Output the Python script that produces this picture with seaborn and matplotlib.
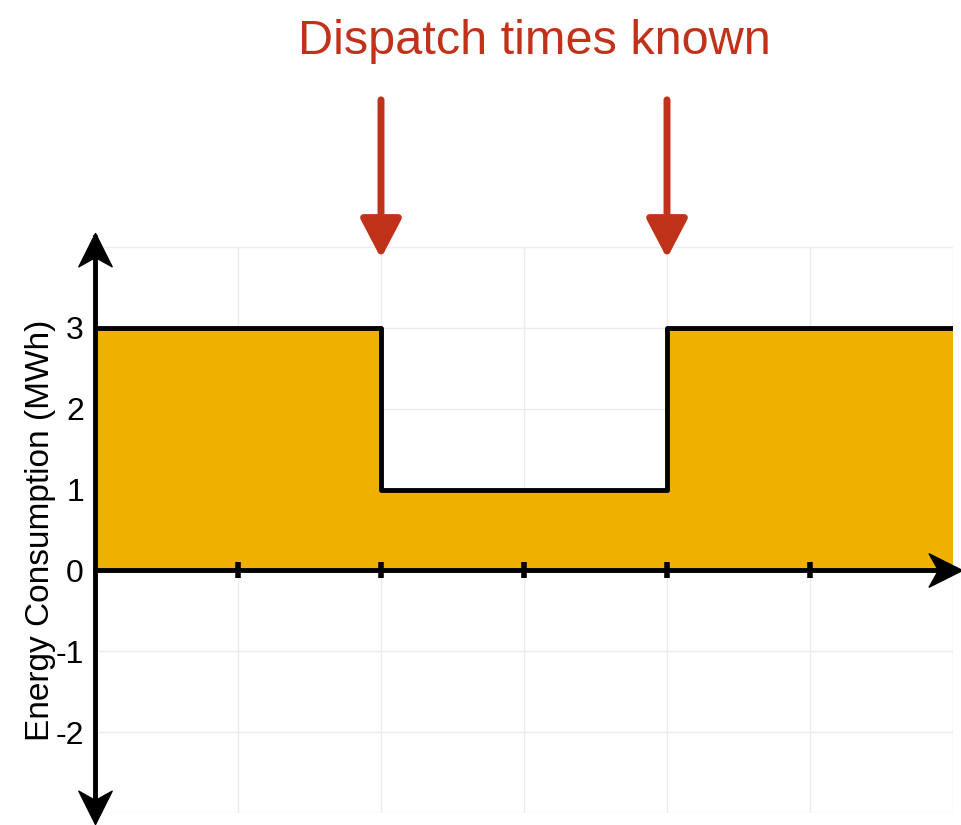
import numpy as np
import pandas as pd
import matplotlib
matplotlib.use('Agg')
import matplotlib.pyplot as plt
from matplotlib.path import Path
import seaborn as sns

# ========================================
# Data
# ========================================
hours = [0, 2, 4, 6]
consumption = [3, 1, 3, 3]
dispatch_times = [2, 4]
x_marks = [1, 2, 3, 4, 5]
y_ticks = [-3, -2, -1, 0, 1, 2, 3, 4]
y_labels = ['', '-2', '-1', '0', '1', '2', '3', '']

TITLE = 'Dispatch times known'
YLABEL = 'Energy Consumption (MWh)'
FILL = '#EFB000'
RED = '#C0321A'

sns.set_theme(style='white')
plt.rcParams['font.family'] = ['Liberation Sans', 'DejaVu Sans']

df = pd.DataFrame({'hour': hours, 'mwh': consumption})


def chevron(direction):
    # swept-back arrow head, tip at the origin
    pts = np.array([(0, 0), (-0.5, -1), (0, -0.72), (0.5, -1), (0, 0)])
    rot = {'up': 0, 'down': np.pi, 'right': -np.pi / 2}[direction]
    c, s = np.cos(rot), np.sin(rot)
    pts = pts @ np.array([[c, s], [-s, c]])
    codes = [Path.MOVETO, Path.LINETO, Path.LINETO, Path.LINETO, Path.CLOSEPOLY]
    return Path(pts, codes)


fig = plt.figure(figsize=(9.61, 8.25), dpi=100)
ax = fig.add_axes([95 / 961, 1 - 813 / 825, 858 / 961, 566 / 825])

# fill + step line
ax.fill_between(df['hour'], df['mwh'], 0, step='post', color=FILL, lw=0, zorder=1)
sns.lineplot(data=df, x='hour', y='mwh', drawstyle='steps-post', color='black',
             lw=3.5, ax=ax, zorder=3, solid_capstyle='round')

ax.set_xlim(0, 6)
ax.set_ylim(-3, 4)
ax.set_xticks(range(0, 7))
ax.set_xticklabels([])
ax.set_yticks(y_ticks)
ax.set_yticklabels(y_labels, fontsize=23, color='black')
ax.tick_params(axis='x', length=0)
ax.tick_params(axis='y', direction='in', length=8, width=3.5, color='black', pad=8)
for t in (ax.yaxis.get_major_ticks()[0], ax.yaxis.get_major_ticks()[-1]):
    t.tick1line.set_visible(False)
ax.grid(True, color='#EBEBEB', lw=1)
for s in ax.spines.values():
    s.set_visible(False)
ax.set_xlabel('')
ax.set_ylabel(YLABEL, fontsize=24, color='black')
ax.yaxis.set_label_coords(-0.046, 0.5)

# axes with arrows
ax.plot([0, 0], [-3.08, 4.13], color='black', lw=3.5, clip_on=False, zorder=4)
ax.plot([0, 6.02], [0, 0], color='black', lw=3.5, clip_on=False, zorder=4)
ax.plot([0], [4.17], ls='none', marker=chevron('up'), ms=48, color='black',
        clip_on=False, zorder=5)
ax.plot([0], [-3.13], ls='none', marker=chevron('down'), ms=48, color='black',
        clip_on=False, zorder=5)
ax.plot([6.063], [0], ls='none', marker=chevron('right'), ms=48, color='black',
        clip_on=False, zorder=5)
ax.plot(x_marks, [0] * len(x_marks), ls='none', marker='|', ms=12, mew=4,
        color='black', zorder=5, clip_on=False)

# dispatch arrows
for t in dispatch_times:
    ax.annotate('', xy=(t, 3.86), xytext=(t, 5.82), annotation_clip=False,
                arrowprops=dict(arrowstyle='-|>,head_length=0.63,head_width=0.33',
                                lw=5, color=RED, mutation_scale=38,
                                shrinkA=0, shrinkB=0))

fig.text(534 / 961, 1 - 42 / 825, TITLE, color=RED, fontsize=35,
         ha='center', va='center')

fig.savefig('out.png', dpi=100)
